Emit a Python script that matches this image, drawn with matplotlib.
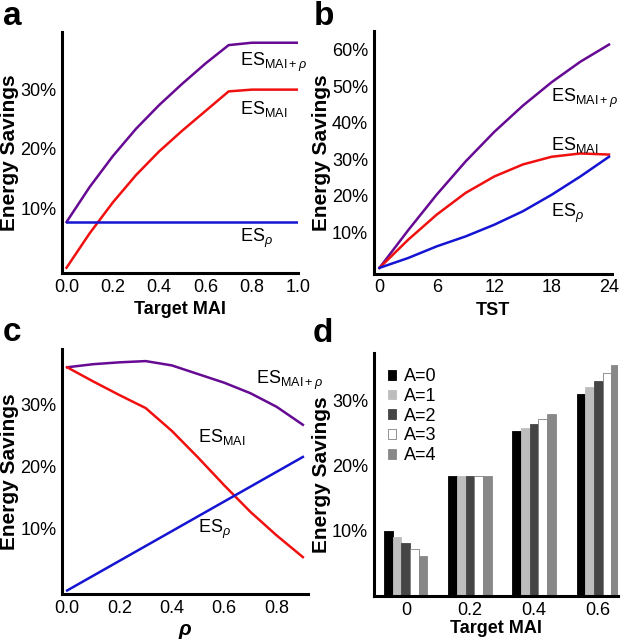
import numpy as np
import matplotlib
matplotlib.use("Agg")
import matplotlib.pyplot as plt
from matplotlib.ticker import FuncFormatter

plt.rcParams['font.family'] = ['Liberation Sans', 'DejaVu Sans']
plt.rcParams['mathtext.fontset'] = 'custom'
plt.rcParams['mathtext.rm'] = 'Liberation Sans'
plt.rcParams['mathtext.it'] = 'Liberation Sans:italic'
plt.rcParams['mathtext.bf'] = 'Liberation Sans:bold'

PURPLE = '#660a93'
RED = '#f01010'
BLUE = '#1414d2'

# panel a: vs target MAI
mai_a = [0.0, 0.1, 0.2, 0.3, 0.4, 0.5, 0.6, 0.7, 0.8, 0.9, 1.0]
a_mai_rho = [7.7, 13.6, 18.8, 23.4, 27.4, 31.0, 34.4, 37.5, 37.9, 37.9, 37.9]
a_mai = [0.0, 5.8, 11.0, 15.6, 19.6, 23.1, 26.4, 29.7, 30.0, 30.0, 30.0]
a_rho = [7.7, 7.7, 7.7, 7.7, 7.7, 7.7, 7.7, 7.7, 7.7, 7.7, 7.7]

# panel b: vs TST
tst = [0, 3, 6, 9, 12, 15, 18, 21, 24]
b_mai_rho = [0.3, 10.6, 20.4, 29.4, 37.5, 44.7, 51.1, 56.7, 61.4]
b_mai = [0.3, 8.0, 14.9, 20.8, 25.3, 28.6, 30.7, 31.6, 31.3]
b_rho = [0.3, 3.0, 6.2, 8.9, 12.1, 15.8, 20.3, 25.3, 30.7]

# panel c: vs rho
rho = [0.0, 0.1, 0.2, 0.3, 0.4, 0.5, 0.6, 0.7, 0.8, 0.9]
c_mai_rho = [36.1, 36.6, 36.9, 37.1, 36.4, 35.0, 33.6, 31.9, 29.7, 26.8]
c_mai = [36.1, 33.8, 31.6, 29.5, 25.8, 21.5, 17.0, 12.7, 8.9, 5.4]
c_rho = [0.0, 2.4, 4.8, 7.2, 9.6, 12.0, 14.4, 16.8, 19.2, 21.6]

# panel d: bars, target MAI groups x A
groups = ['0', '0.2', '0.4', '0.6']
a_levels = ['A=0', 'A=1', 'A=2', 'A=3', 'A=4']
d_vals = [
    [10.0, 18.4, 25.3, 31.0],
    [9.1, 18.4, 25.8, 32.0],
    [8.1, 18.4, 26.4, 33.0],
    [7.2, 18.4, 27.1, 34.2],
    [6.1, 18.4, 27.9, 35.4],
]
bar_colors = ['#000000', '#bdbdbd', '#454545', '#ffffff', '#888888']

lbl_mai_rho = r'ES$_{\mathrm{MAI+}\rho}$'
lbl_mai = r'ES$_{\mathrm{MAI}}$'
lbl_rho = r'ES$_{\rho}$'

pct = FuncFormatter(lambda v, p: f'{v:.0f}%')

fig = plt.figure(figsize=(6.25, 6.41), dpi=100)
ax_a = fig.add_axes([0.099, 0.574, 0.378, 0.376])
ax_b = fig.add_axes([0.598, 0.573, 0.381, 0.378])
ax_c = fig.add_axes([0.099, 0.073, 0.394, 0.382])
ax_d = fig.add_axes([0.598, 0.070, 0.390, 0.380])


def style(ax):
    for s in ['top', 'right']:
        ax.spines[s].set_visible(False)
    for s in ['left', 'bottom']:
        ax.spines[s].set_linewidth(2.2)
    ax.tick_params(length=0, labelsize=13, pad=4)
    ax.yaxis.set_major_formatter(pct)
    ax.set_ylabel('Energy Savings', fontsize=15, fontweight='bold', labelpad=1)


lw = 1.8
tfs = 13

# a
ax_a.plot(mai_a, a_mai_rho, color=PURPLE, lw=lw)
ax_a.plot(mai_a, a_mai, color=RED, lw=lw)
ax_a.plot(mai_a, a_rho, color=BLUE, lw=lw)
ax_a.set_xlim(-0.02, 1.0)
ax_a.set_ylim(-0.9, 39.7)
ax_a.set_xticks([0.0, 0.2, 0.4, 0.6, 0.8, 1.0])
ax_a.set_xticklabels(['0.0', '0.2', '0.4', '0.6', '0.8', '1.0'])
ax_a.set_yticks([10, 20, 30])
style(ax_a)
ax_a.set_xlabel('Target MAI', fontsize=13, fontweight='bold')
ax_a.text(0.75, 34.6, lbl_mai_rho, fontsize=tfs, va='center')
ax_a.text(0.75, 26.8, lbl_mai, fontsize=tfs, va='center')
ax_a.text(0.75, 5.0, lbl_rho, fontsize=tfs, va='center')

# b
ax_b.plot(tst, b_mai_rho, color=PURPLE, lw=lw)
ax_b.plot(tst, b_mai, color=RED, lw=lw)
ax_b.plot(tst, b_rho, color=BLUE, lw=lw)
ax_b.set_xlim(-0.6, 24.3)
ax_b.set_ylim(-1.3, 65)
ax_b.set_xticks([0, 6, 12, 18, 24])
ax_b.set_yticks([10, 20, 30, 40, 50, 60])
style(ax_b)
ax_b.set_xlabel('TST', fontsize=13, fontweight='bold')
ax_b.text(17.9, 46.8, lbl_mai_rho, fontsize=tfs, va='center')
ax_b.text(17.9, 34.0, lbl_mai, fontsize=tfs, va='center')
ax_b.text(17.9, 15.3, lbl_rho, fontsize=tfs, va='center')

# c
ax_c.plot(rho, c_mai_rho, color=PURPLE, lw=lw)
ax_c.plot(rho, c_mai, color=RED, lw=lw)
ax_c.plot(rho, c_rho, color=BLUE, lw=lw)
ax_c.set_xlim(-0.02, 0.92)
ax_c.set_ylim(-0.6, 39)
ax_c.set_xticks([0.0, 0.2, 0.4, 0.6, 0.8])
ax_c.set_xticklabels(['0.0', '0.2', '0.4', '0.6', '0.8'])
ax_c.set_yticks([10, 20, 30])
style(ax_c)
ax_c.set_xlabel('ρ', fontsize=15, fontweight='bold', fontstyle='italic', labelpad=2)
ax_c.text(0.72, 33.9, lbl_mai_rho, fontsize=tfs, va='center')
ax_c.text(0.50, 24.9, lbl_mai, fontsize=tfs, va='center')
ax_c.text(0.50, 9.8, lbl_rho, fontsize=tfs, va='center')

# d
x = np.arange(len(groups))
w = 0.135
for i, (lab, vals, col) in enumerate(zip(a_levels, d_vals, bar_colors)):
    ax_d.bar(x + (i - 2) * w, vals, width=w, color=col,
             edgecolor='#808080' if col == '#ffffff' else col,
             linewidth=0.6, label=lab)
ax_d.set_xlim(-0.5, 3.3)
ax_d.set_ylim(0, 37.3)
ax_d.set_xticks(x)
ax_d.set_xticklabels(groups)
ax_d.set_yticks([10, 20, 30])
style(ax_d)
ax_d.set_xlabel('Target MAI', fontsize=13, fontweight='bold', labelpad=1)
ax_d.legend(loc='upper left', bbox_to_anchor=(0.03, 0.965), frameon=False, fontsize=13,
            handlelength=0.45, handleheight=0.45, handletextpad=0.4, labelspacing=0.15,
            borderaxespad=0)

for lab, (px, py) in zip('abcd', [(0.005, 0.961), (0.502, 0.961), (0.005, 0.468), (0.500, 0.467)]):
    fig.text(px, py, lab, fontsize=24, fontweight='bold', va='baseline', ha='left')

fig.savefig('out.png', dpi=100)
